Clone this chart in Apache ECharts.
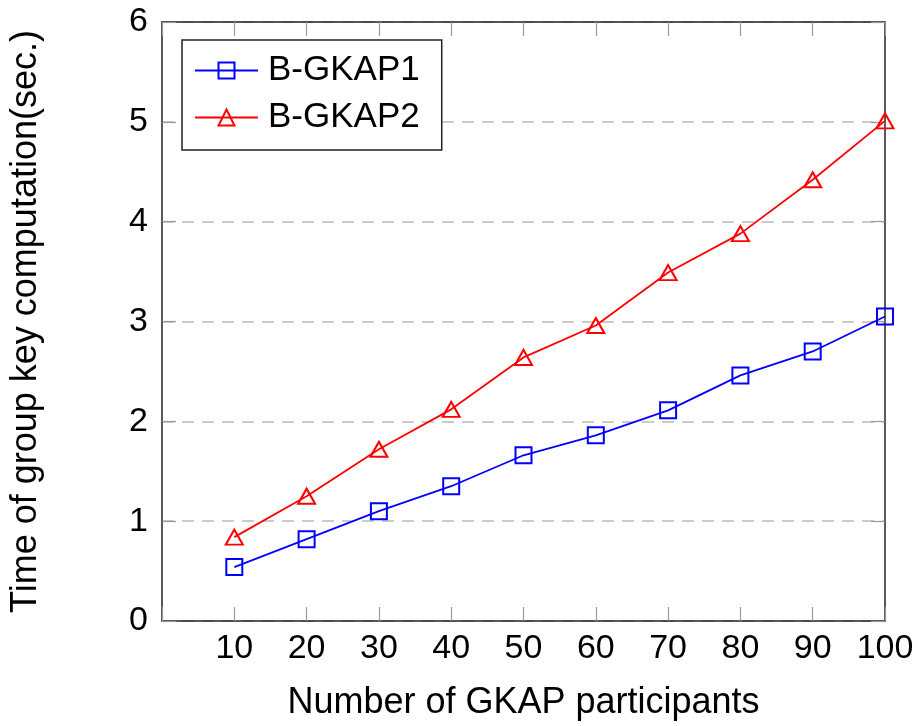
<!DOCTYPE html>
<html>
<head>
<meta charset="utf-8">
<script src="https://cdn.jsdelivr.net/npm/echarts@6/dist/echarts.min.js"></script>
<style>
  html, body { margin: 0; padding: 0; background: #fff; }
  #main { width: 918px; height: 726px; }
</style>
</head>
<body>
<div id="main"></div>
<script>
// data
var participants = [10, 20, 30, 40, 50, 60, 70, 80, 90, 100];
var gkap1 = [0.54, 0.82, 1.10, 1.35, 1.66, 1.86, 2.11, 2.46, 2.70, 3.05];
var gkap2 = [0.84, 1.25, 1.72, 2.12, 2.64, 2.96, 3.49, 3.88, 4.42, 5.01];

var font = "'Liberation Sans', Arial, Helvetica, sans-serif";

function pairs(xs, ys) {
  return xs.map(function (x, i) { return [x, ys[i]]; });
}

var chart = echarts.init(document.getElementById("main"));

// shared bits for the framed axes
var inTick = { show: true, inside: true, length: 14, lineStyle: { color: "#999", width: 1.2 } };
var boxLine = { show: true, onZero: false, lineStyle: { color: "#222", width: 1.5 } };

var option = {
  animation: false,
  backgroundColor: "#fff",
  grid: { left: 160, right: 33, top: 22, bottom: 104 },
  legend: {
    left: 182,
    top: 40,
    orient: "vertical",
    backgroundColor: "#fff",
    borderColor: "#222",
    borderWidth: 1.5,
    borderRadius: 0,
    padding: [13, 22, 15, 12],
    itemGap: 12,
    itemWidth: 63,
    itemHeight: 20,
    textStyle: { fontFamily: font, fontSize: 35, color: "#000", padding: [0, 0, 0, 5] },
    data: ["B-GKAP1", "B-GKAP2"]
  },
  xAxis: [
    {
      type: "value",
      min: 0,
      max: 100,
      interval: 10,
      name: "Number of GKAP participants",
      nameLocation: "middle",
      nameGap: 64,
      nameTextStyle: { fontFamily: font, fontSize: 36, color: "#000" },
      axisLine: boxLine,
      axisTick: inTick,
      splitLine: { show: false },
      axisLabel: {
        fontFamily: font, fontSize: 34, color: "#000", margin: 11,
        formatter: function (v) { return v === 0 ? "" : v; }
      }
    },
    {
      type: "value",
      position: "top",
      min: 0,
      max: 100,
      interval: 10,
      axisLine: boxLine,
      axisTick: inTick,
      axisLabel: { show: false },
      splitLine: { show: false }
    }
  ],
  yAxis: [
    {
      type: "value",
      min: 0,
      max: 6,
      interval: 1,
      name: "Time of group key computation(sec.)",
      nameLocation: "middle",
      nameGap: 118,
      nameTextStyle: { fontFamily: font, fontSize: 36, color: "#000" },
      axisLine: boxLine,
      axisTick: inTick,
      splitLine: { show: true, lineStyle: { color: "#bbb", type: [12, 8], width: 1.5 } },
      axisLabel: { fontFamily: font, fontSize: 34, color: "#000", margin: 14 }
    },
    {
      type: "value",
      position: "right",
      min: 0,
      max: 6,
      interval: 1,
      axisLine: boxLine,
      axisTick: inTick,
      axisLabel: { show: false },
      splitLine: { show: false }
    }
  ],
  series: [
    {
      name: "B-GKAP1",
      type: "line",
      data: pairs(participants, gkap1),
      symbol: "rect",
      symbolSize: 16,
      lineStyle: { color: "#0000ff", width: 1.8 },
      itemStyle: { color: "rgba(0,0,0,0)", borderColor: "#0000ff", borderWidth: 2 },
      z: 3
    },
    {
      name: "B-GKAP2",
      type: "line",
      data: pairs(participants, gkap2),
      symbol: "triangle",
      symbolSize: [17, 15],
      lineStyle: { color: "#ff0000", width: 1.8 },
      itemStyle: { color: "rgba(0,0,0,0)", borderColor: "#ff0000", borderWidth: 2 },
      z: 3
    }
  ]
};

chart.setOption(option);
</script>
</body>
</html>
